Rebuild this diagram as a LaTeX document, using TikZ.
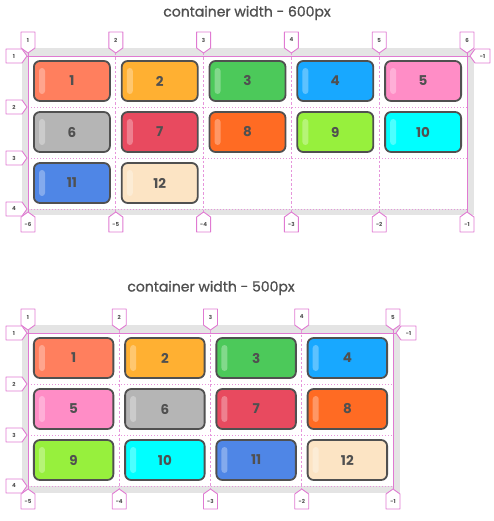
\documentclass[tikz,border=0pt]{standalone}
\usepackage{fontspec}
\setmainfont{Poppins}
\newfontfamily\titlefont[FakeBold=1.2]{Poppins}
\usetikzlibrary{calc}
\definecolor{c1}{HTML}{FF7F5E}
\definecolor{c2}{HTML}{FFB032}
\definecolor{c3}{HTML}{4CC95A}
\definecolor{c4}{HTML}{18A8FF}
\definecolor{c5}{HTML}{FF8DC6}
\definecolor{c6}{HTML}{B5B5B5}
\definecolor{c7}{HTML}{E84A5F}
\definecolor{c8}{HTML}{FF6B23}
\definecolor{c9}{HTML}{97F03D}
\definecolor{c10}{HTML}{00FFFF}
\definecolor{c11}{HTML}{4F86E6}
\definecolor{c12}{HTML}{FCE4C4}
\definecolor{pinkline}{HTML}{E07AD2}
\definecolor{framegray}{HTML}{E4E4E4}
\definecolor{ink}{HTML}{505050}
\tikzset{
  item/.style={draw=ink, line width=1.8pt, rounded corners=6pt, minimum height=40pt,
    font=\bfseries\fontsize{13.5}{13.5}\selectfont, text=ink, inner sep=0pt},
  mk/.style={draw=pinkline, fill=white, line width=0.9pt, line join=round},
  mklabel/.style={font=\bfseries\fontsize{5.5}{6}\selectfont, text=ink, inner sep=0pt},
  solidline/.style={draw=pinkline, line width=0.8pt},
  colline/.style={draw=pinkline!80, line width=0.7pt, dash pattern=on 2.5pt off 2pt},
  rowline/.style={draw=pinkline!80, line width=0.7pt, dash pattern=on 1.2pt off 1.8pt},
  title/.style={font=\titlefont\fontsize{14}{14}\selectfont, text=ink},
  hl/.style={fill=white, opacity=0.3, rounded corners=3pt}
}
\newcommand\mkdown[3]{%
  \draw[mk] (#1-7,#2-5) -- (#1-7,#2-21) -- (#1+7,#2-21) -- (#1+7,#2-5) -- (#1,#2) -- cycle;
  \node[mklabel] at (#1,#2-13) {#3};}
\newcommand\mkup[3]{%
  \draw[mk] (#1-7,#2+5) -- (#1-7,#2+20) -- (#1+7,#2+20) -- (#1+7,#2+5) -- (#1,#2) -- cycle;
  \node[mklabel] at (#1,#2+12.5) {#3};}
\newcommand\mkright[3]{%
  \draw[mk] (#1-5,#2-7) -- (#1-21,#2-7) -- (#1-21,#2+7) -- (#1-5,#2+7) -- (#1,#2) -- cycle;
  \node[mklabel] at (#1-13,#2) {#3};}
\newcommand\mkleft[3]{%
  \draw[mk] (#1+5,#2-7) -- (#1+20,#2-7) -- (#1+20,#2+7) -- (#1+5,#2+7) -- (#1,#2) -- cycle;
  \node[mklabel] at (#1+12.5,#2) {#3};}
\begin{document}
\begin{tikzpicture}[x=1pt,y=-1pt]
\useasboundingbox (0,0) rectangle (494,521);
% ---------------- grid A (600px) ----------------
\node[title] (tA) at (247,13) {container width - 600px};
\fill[framegray] (22,48) rectangle (474,215);
\fill[white] (28,56) rectangle (467,209);
\foreach \k in {1,...,4}{
  \pgfmathsetmacro\xx{28+87.8*\k}
  \draw[colline] (\xx,53) -- (\xx,212);
}
\foreach \k in {1,2,3}{
  \pgfmathsetmacro\yy{56+51*\k}
  \draw[rowline] (28,\yy) -- (467,\yy);
}
\draw[solidline] (28,53) -- (28,212);
\draw[solidline] (467,53) -- (467,212);
\draw[solidline] (27,56) -- (470,56);
\foreach \i in {1,...,12}{
  \pgfmathtruncatemacro\cc{mod(\i-1,5)}
  \pgfmathtruncatemacro\rr{(\i-1)/5}
  \node[item, fill=c\i, minimum width=76pt] (a\i) at ({28+87.8*(\cc+0.5)},{56+51*\rr+25}) {\i};
  \fill[hl] ($(a\i.west)+(6,-13)$) rectangle ($(a\i.west)+(12,13)$);
}
\foreach \k in {0,...,5}{
  \pgfmathsetmacro\xx{28+87.8*\k}
  \pgfmathtruncatemacro\lab{\k+1}
  \pgfmathtruncatemacro\nlab{\k-6}
  \mkdown{\xx}{53}{\lab}
  \mkup{\xx}{212}{\nlab}
}
\foreach \k in {0,...,3}{
  \pgfmathsetmacro\yy{56+51*\k}
  \pgfmathtruncatemacro\lab{\k+1}
  \mkright{27}{\yy}{\lab}
}
\mkleft{470}{56}{-1}
% ---------------- grid B (500px) ----------------
\node[title] (tB) at (211,288) {container width - 500px};
\fill[framegray] (22,325) rectangle (400,493);
\fill[white] (28,333) rectangle (393,486);
\foreach \k in {1,...,3}{
  \pgfmathsetmacro\xx{28+91.25*\k}
  \draw[colline] (\xx,330) -- (\xx,489);
}
\foreach \k in {1,2,3}{
  \pgfmathsetmacro\yy{333+51*\k}
  \draw[rowline] (28,\yy) -- (393,\yy);
}
\draw[solidline] (28,330) -- (28,489);
\draw[solidline] (393,330) -- (393,489);
\draw[solidline] (27,333) -- (396,333);
\foreach \i in {1,...,12}{
  \pgfmathtruncatemacro\cc{mod(\i-1,4)}
  \pgfmathtruncatemacro\rr{(\i-1)/4}
  \node[item, fill=c\i, minimum width=79.5pt] (b\i) at ({28+91.25*(\cc+0.5)},{333+51*\rr+25}) {\i};
  \fill[hl] ($(b\i.west)+(6,-13)$) rectangle ($(b\i.west)+(12,13)$);
}
\foreach \k in {0,...,4}{
  \pgfmathsetmacro\xx{28+91.25*\k}
  \pgfmathtruncatemacro\lab{\k+1}
  \pgfmathtruncatemacro\nlab{\k-5}
  \mkdown{\xx}{330}{\lab}
  \mkup{\xx}{489}{\nlab}
}
\foreach \k in {0,...,3}{
  \pgfmathsetmacro\yy{333+51*\k}
  \pgfmathtruncatemacro\lab{\k+1}
  \mkright{27}{\yy}{\lab}
}
\mkleft{396}{333}{-1}
\end{tikzpicture}
\end{document}
